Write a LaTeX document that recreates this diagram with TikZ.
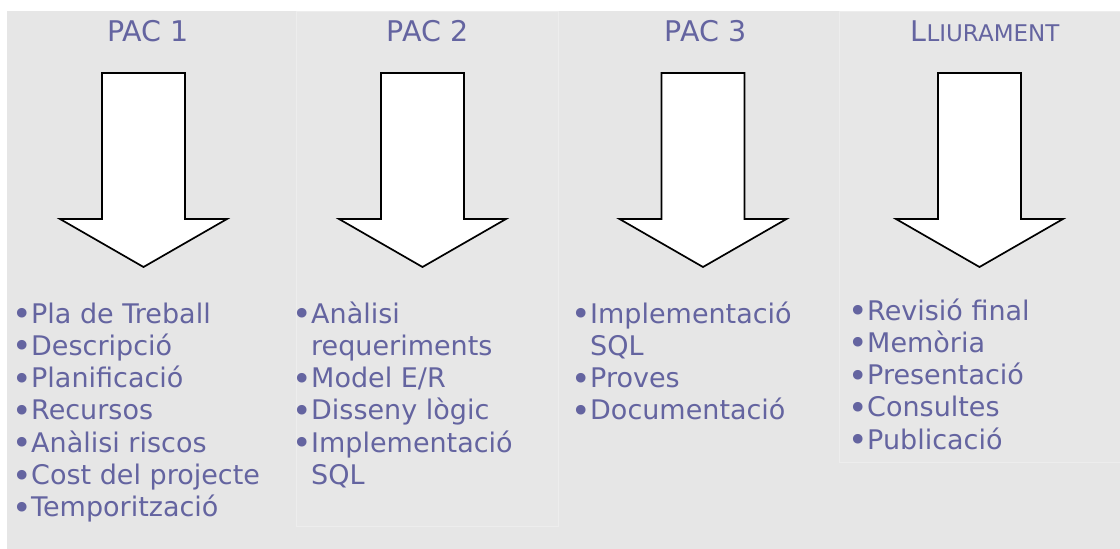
\documentclass[tikz,border=0pt]{standalone}
\usepackage{fontspec}
\setmainfont{DejaVu Sans}

\definecolor{panel}{RGB}{230,230,230}
\definecolor{panelcol}{RGB}{231,231,231}
\definecolor{paneledge}{RGB}{237,237,237}
\definecolor{ink}{RGB}{100,100,160}

% bullet and continuation indent for the task lists
\newcommand\itm{\makebox[18pt][c]{\raisebox{-2.5pt}{\fontsize{33}{33}\selectfont •}}}
\newcommand\cnt{\makebox[18pt]{}}

\tikzset{
  phasetitle/.style={anchor=base, inner sep=0pt, text=ink,
    font=\fontsize{28.5}{34}\selectfont},
  % lists are placed by the baseline of their last line
  tasklist/.style={anchor=base west, inner sep=0pt, text=ink, align=left,
    font=\fontsize{27}{32.3}\selectfont},
  bigarrow/.style={draw=black, fill=white, line width=1.7pt, line join=miter},
  colbox/.style={fill=panelcol, draw=paneledge, line width=0.8pt}
}

\begin{document}
\begin{tikzpicture}[x=1pt, y=-1pt]
\useasboundingbox (0,0) rectangle (1120,549);

% background panel and the two column boxes
\fill[panel] (7,11) rectangle (1120,549);
\path[colbox] (296,11) rectangle (558,526);
\path[colbox] (839,11) rectangle (1120,462);

% phase titles
\node[phasetitle] (t1) at (148,41) {PAC 1};
\node[phasetitle] (t2) at (427.5,41) {PAC 2};
\node[phasetitle] (t3) at (705.5,41) {PAC 3};
\node[phasetitle] (t4) at (985,41) {L{\fontsize{23}{28}\selectfont LIURAMENT}};

% block arrows below each title
\foreach \c in {143.5, 422.5, 703, 979.5} {
  \draw[bigarrow] (\c-41.5,73) -- (\c+41.5,73) -- (\c+41.5,219)
    -- (\c+83.5,219) -- (\c,267) -- (\c-83.5,219) -- (\c-41.5,219) -- cycle;
}

% task lists
\node[tasklist] (l1) at (13,516.8) {\itm Pla de Treball\\ \itm Descripció\\ \itm Planificació\\
  \itm Recursos\\ \itm Anàlisi riscos\\ \itm Cost del projecte\\ \itm Temporització};
\node[tasklist] (l2) at (293,484.5) {\itm Anàlisi\\ \cnt requeriments\\ \itm Model E/R\\
  \itm Disseny lògic\\ \itm Implementació\\ \cnt SQL};
\node[tasklist] (l3) at (572,419.9) {\itm Implementació\\ \cnt SQL\\ \itm Proves\\
  \itm Documentació};
\node[tasklist] (l4) at (849,449.2) {\itm Revisió final\\ \itm Memòria\\ \itm Presentació\\
  \itm Consultes\\ \itm Publicació};
\end{tikzpicture}
\end{document}
